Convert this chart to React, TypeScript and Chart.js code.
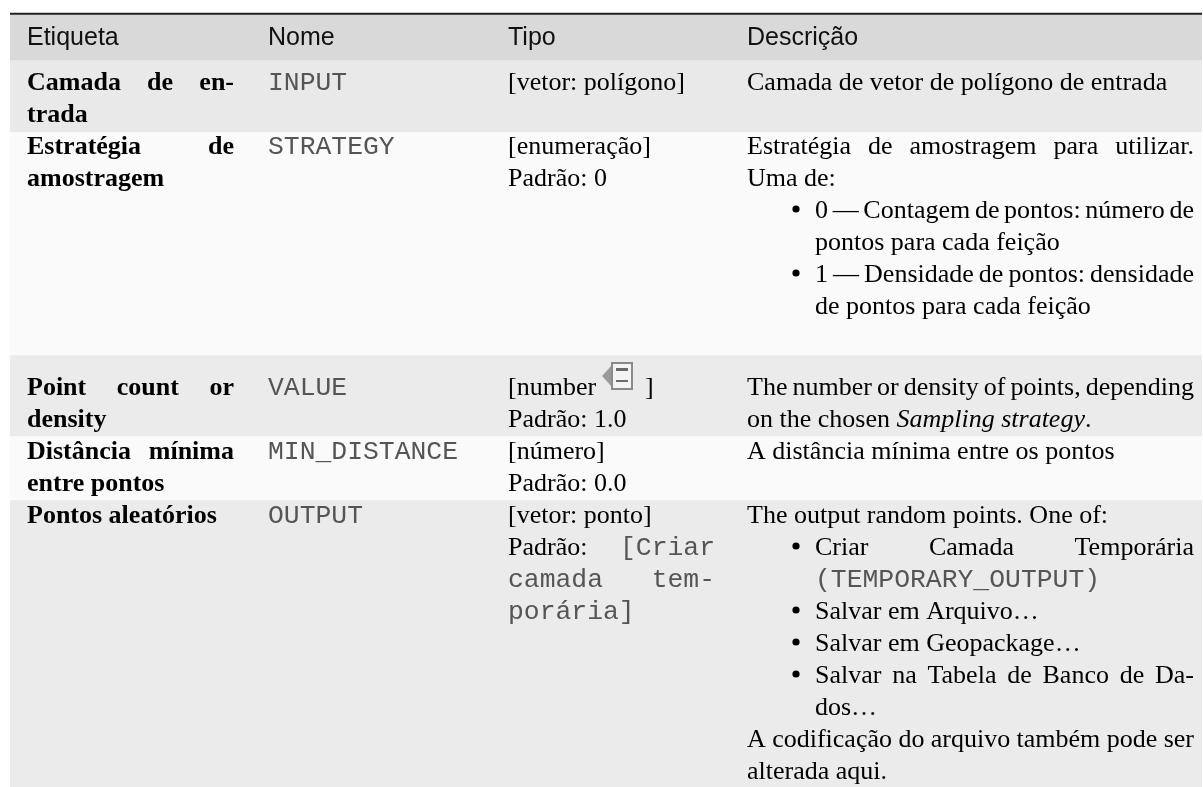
import React, { useEffect, useRef } from "react";
import { Chart, registerables } from "chart.js";

Chart.register(...registerables);

type Run = [string, string];
type Line = { runs: Run[]; just?: boolean; indent?: number; bullet?: boolean };

const tableName = ["Tabela"];
const headers = ["Etiqueta", "Nome", "Tipo", "Descrição"];
const rowEdges = [60, 132, 355, 436, 500, 787];
const rowColors = ["#e9e9e9", "#fafafa", "#ebebeb", "#fafafa", "#ebebeb"];
const firstBaselines = [90, 154, 395, 459, 523];

const r = (t: string, s = "n"): Run => [t, s];
const labelLines: Line[][] = [
  [{ runs: [r("Camada de en-", "b")], just: true }, { runs: [r("trada", "b")] }],
  [{ runs: [r("Estratégia de", "b")], just: true }, { runs: [r("amostragem", "b")] }],
  [{ runs: [r("Point count or", "b")], just: true }, { runs: [r("density", "b")] }],
  [{ runs: [r("Distância mínima", "b")], just: true }, { runs: [r("entre pontos", "b")] }],
  [{ runs: [r("Pontos aleatórios", "b")] }],
];
const nameLines: Line[][] = [
  [{ runs: [r("INPUT", "m")] }],
  [{ runs: [r("STRATEGY", "m")] }],
  [{ runs: [r("VALUE", "m")] }],
  [{ runs: [r("MIN_DISTANCE", "m")] }],
  [{ runs: [r("OUTPUT", "m")] }],
];
const typeLines: Line[][] = [
  [{ runs: [r("[vetor: polígono]")] }],
  [{ runs: [r("[enumeração]")] }, { runs: [r("Padrão: 0")] }],
  [{ runs: [r("[number")] }, { runs: [r("Padrão: 1.0")] }],
  [{ runs: [r("[número]")] }, { runs: [r("Padrão: 0.0")] }],
  [
    { runs: [r("[vetor: ponto]")] },
    { runs: [r("Padrão:"), r("[Criar", "m")], just: true },
    { runs: [r("camada tem-", "m")], just: true },
    { runs: [r("porária]", "m")] },
  ],
];
const descLines: Line[][] = [
  [{ runs: [r("Camada de vetor de polígono de entrada")] }],
  [
    { runs: [r("Estratégia de amostragem para utilizar.")], just: true },
    { runs: [r("Uma de:")] },
    { runs: [r("0 — Contagem de pontos: número de")], just: true, indent: 1, bullet: true },
    { runs: [r("pontos para cada feição")], indent: 1 },
    { runs: [r("1 — Densidade de pontos: densidade")], just: true, indent: 1, bullet: true },
    { runs: [r("de pontos para cada feição")], indent: 1 },
  ],
  [
    { runs: [r("The number or density of points, depending")], just: true },
    { runs: [r("on the chosen"), r("Sampling strategy", "i"), r(".")] },
  ],
  [{ runs: [r("A distância mínima entre os pontos")] }],
  [
    { runs: [r("The output random points. One of:")] },
    { runs: [r("Criar Camada Temporária")], just: true, indent: 1, bullet: true },
    { runs: [r("(TEMPORARY_OUTPUT)", "m")], indent: 1 },
    { runs: [r("Salvar em Arquivo…")], indent: 1, bullet: true },
    { runs: [r("Salvar em Geopackage…")], indent: 1, bullet: true },
    { runs: [r("Salvar na Tabela de Banco de Da-")], just: true, indent: 1, bullet: true },
    { runs: [r("dos…")], indent: 1 },
    { runs: [r("A codificação do arquivo também pode ser")], just: true },
    { runs: [r("alterada aqui.")] },
  ],
];

const SERIF = "26px 'Liberation Serif'";
const fonts: Record<string, string> = {
  n: SERIF,
  b: "bold " + SERIF,
  i: "italic " + SERIF,
  m: "26.4px 'Liberation Mono'",
};
const colors: Record<string, string> = { n: "#000", b: "#000", i: "#000", m: "#555" };
const columnX = [27, 268, 508, 747];
const columnRight = [234, 480, 715, 1194];
const BULLET_CENTER_X = 796;
const INDENT_X = 815;
const LINE_H = 32;

function drawLine(ctx: CanvasRenderingContext2D, line: Line, x0: number, right: number, y: number) {
  const words: { t: string; s: string; attach: boolean; w: number }[] = [];
  line.runs.forEach(([t, s]) => {
    t.split(" ").forEach((word) => {
      ctx.font = fonts[s];
      words.push({ t: word, s, attach: word === ".", w: ctx.measureText(word).width });
    });
  });
  ctx.font = SERIF;
  const natural = ctx.measureText(" ").width;
  const gaps = words.filter((w, i) => i > 0 && !w.attach).length;
  const total = words.reduce((a, w) => a + w.w, 0);
  const gap = line.just && gaps > 0 ? (right - x0 - total) / gaps : natural;
  let x = x0;
  words.forEach((w, i) => {
    if (i > 0 && !w.attach) x += gap;
    ctx.font = fonts[w.s];
    ctx.fillStyle = colors[w.s];
    ctx.fillText(w.t, x, y);
    x += w.w;
  });
}

const tablePlugin = {
  id: "tableText",
  afterDatasetsDraw(chart: any) {
    const ctx: CanvasRenderingContext2D = chart.ctx;
    const yScale = chart.scales.y;
    ctx.save();
    ctx.textBaseline = "alphabetic";
    ctx.textAlign = "left";
    ctx.font = "25px 'Liberation Sans'";
    ctx.fillStyle = "#111";
    headers.forEach((h, c) => ctx.fillText(h, columnX[c], yScale.getPixelForValue(45)));
    [labelLines, nameLines, typeLines, descLines].forEach((col, c) => {
      col.forEach((cell, row) => {
        cell.forEach((line, i) => {
          const y = yScale.getPixelForValue(firstBaselines[row] + i * LINE_H);
          const x0 = line.indent ? INDENT_X : columnX[c];
          if (line.bullet) {
            ctx.fillStyle = "#000";
            ctx.beginPath();
            ctx.arc(BULLET_CENTER_X, y - 9, 3.6, 0, Math.PI * 2);
            ctx.fill();
          }
          drawLine(ctx, line, x0, columnRight[c], y);
        });
      });
    });
    // icon and closing bracket in the "[number ]" cell
    const iy = yScale.getPixelForValue(362);
    ctx.fillStyle = "#9a9a9a";
    ctx.beginPath();
    ctx.moveTo(602, iy + 14);
    ctx.lineTo(612, iy + 3);
    ctx.lineTo(612, iy + 25);
    ctx.closePath();
    ctx.fill();
    ctx.fillStyle = "#f4f4f4";
    ctx.strokeStyle = "#8a8a8a";
    ctx.lineWidth = 2;
    ctx.fillRect(612, iy + 1, 20, 26);
    ctx.strokeRect(612, iy + 1, 20, 26);
    ctx.fillStyle = "#6a6a6a";
    ctx.fillRect(616, iy + 6, 12, 3);
    ctx.fillRect(616, iy + 18, 12, 2);
    ctx.font = SERIF;
    ctx.fillStyle = "#000";
    ctx.fillText("]", 645, yScale.getPixelForValue(firstBaselines[2]));
    ctx.restore();
  },
};

export default function App() {
  const ref = useRef<HTMLCanvasElement>(null);
  useEffect(() => {
    document.body.style.margin = "0";
    const bands = rowColors.map((c, i) => ({
      label: "row" + i,
      data: [[rowEdges[i], rowEdges[i + 1]]],
      backgroundColor: c,
    }));
    const chart = new Chart(ref.current!, {
      type: "bar",
      data: {
        labels: tableName,
        datasets: [
          { label: "header", data: [[15, 60]], backgroundColor: "#d9d9d9" },
          ...bands,
          { label: "topRule", data: [[13, 15]], backgroundColor: "#222" },
          { label: "headRule", data: [[59, 60]], backgroundColor: "#222" },
        ].map((d) => ({ ...d, barPercentage: 1, categoryPercentage: 1, grouped: false, borderWidth: 0 })) as any,
      },
      options: {
        animation: false,
        responsive: false,
        layout: { padding: { left: 10, right: 1, top: 0, bottom: 0 } },
        plugins: { legend: { display: false }, tooltip: { enabled: false }, title: { display: false } },
        scales: {
          x: { display: false },
          y: { display: false, reverse: true, min: 0, max: 787 },
        },
      },
      plugins: [tablePlugin],
    });
    return () => chart.destroy();
  }, []);
  return <canvas ref={ref} width={1203} height={787} style={{ display: "block" }} />;
}
